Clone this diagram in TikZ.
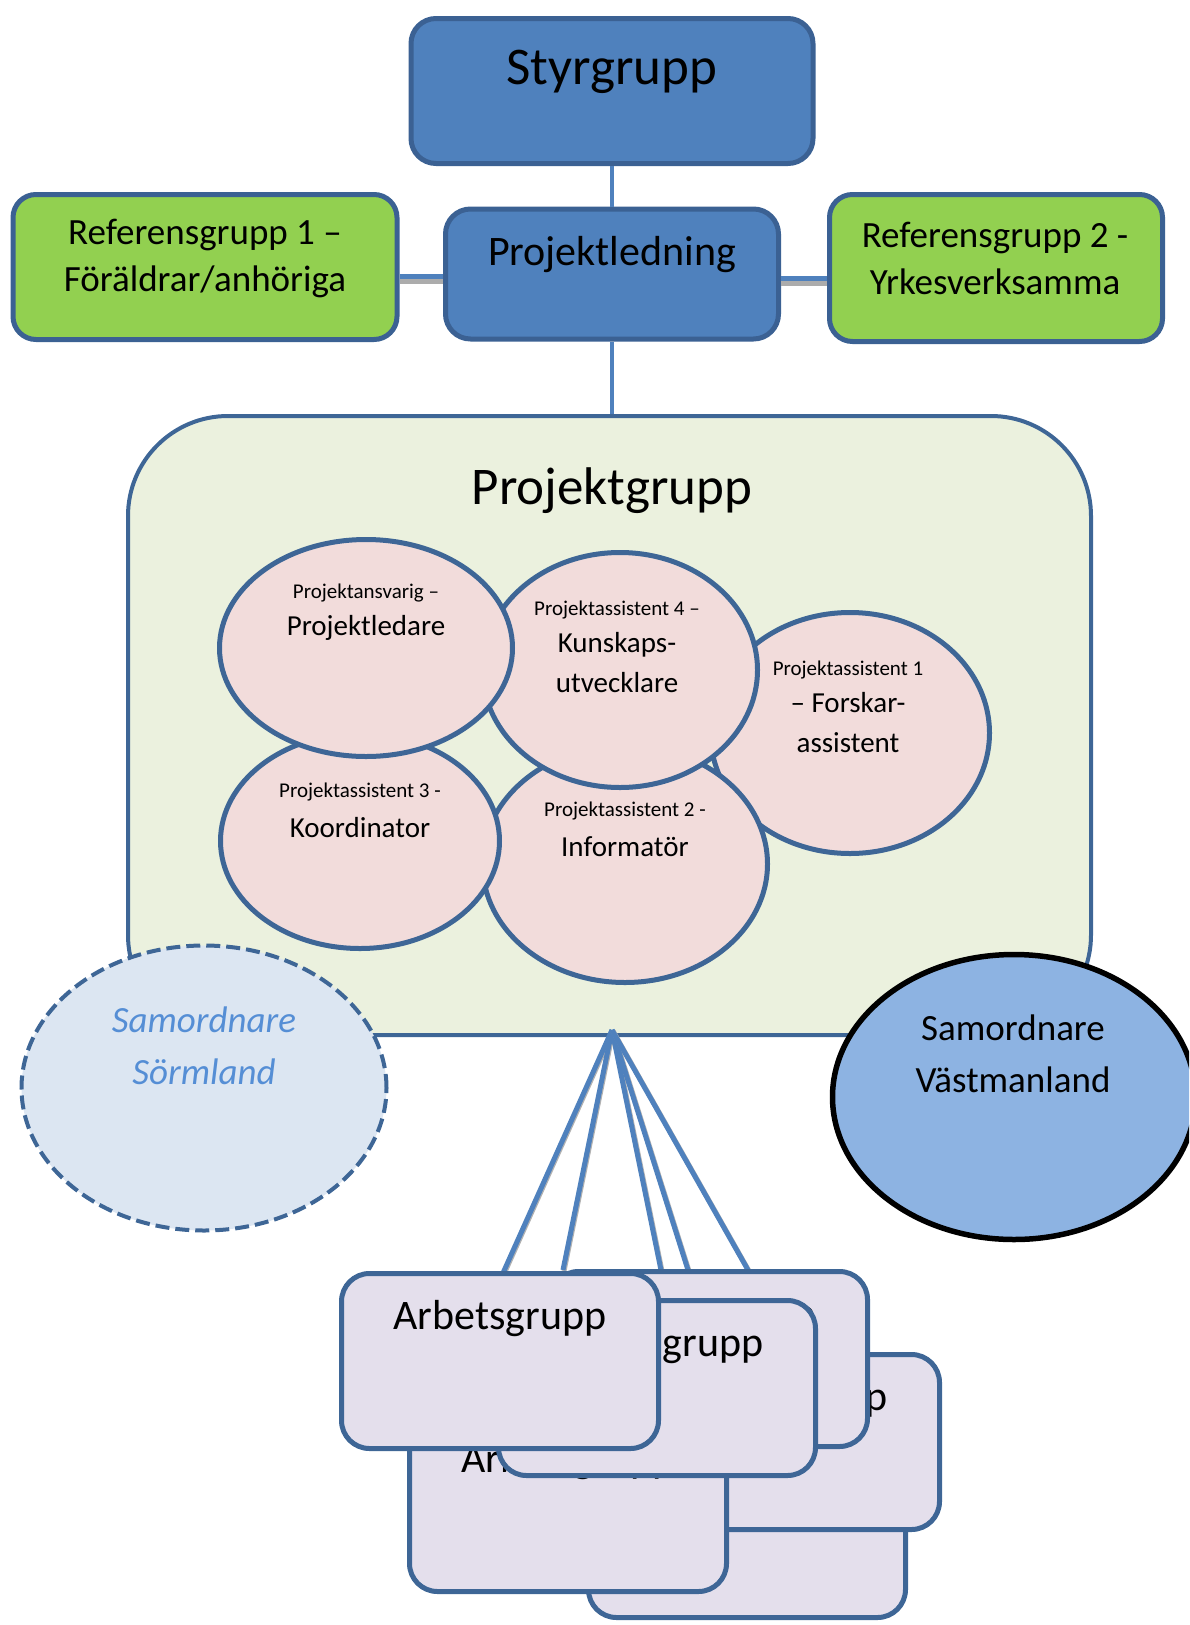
\documentclass[tikz,border=0pt]{standalone}
\usepackage{fontspec}
\setmainfont{Carlito}
\usepackage{tikz}
\usetikzlibrary{shapes.geometric}
\usetikzlibrary{positioning,calc}

\definecolor{headblue}{HTML}{4F81BD}
\definecolor{edgeblue}{HTML}{3B6193}
\definecolor{refgreen}{HTML}{92D050}
\definecolor{groupbg}{HTML}{EBF1DE}
\definecolor{rimblue}{HTML}{3E6696}
\definecolor{rolepink}{HTML}{F2DCDB}
\definecolor{softblue}{HTML}{DCE6F2}
\definecolor{textblue}{HTML}{558ED5}
\definecolor{coordblue}{HTML}{8DB3E2}
\definecolor{worklilac}{HTML}{E4DFEC}

\newcommand\hugefont{\fontsize{53}{64}\selectfont}
\newcommand\headfont{\fontsize{42}{50}\selectfont}
\newcommand\reffont{\fontsize{37}{47}\selectfont}
\newcommand\samfont{\fontsize{37}{52}\selectfont}
\newcommand\rolefont{\fontsize{29}{40}\selectfont}
\newcommand\tinyfont{\fontsize{21}{27}\selectfont}

\begin{document}
\begin{tikzpicture}
      [
        x=1pt, y=-1pt,
        head/.style={draw=edgeblue,fill=headblue,line width=5pt,rounded corners=25pt,inner sep=0pt},
        refbox/.style={draw=edgeblue,fill=refgreen,line width=5pt,rounded corners=23pt,inner sep=0pt},
        link/.style={draw=headblue,line width=4pt},
        sidelink/.style={draw=headblue,line width=5pt,
                     preaction={draw=gray!65,line width=5pt,transform canvas={shift={(0pt,-5pt)}}}},
        role/.style={ellipse,draw=rimblue,fill=rolepink,line width=5pt,inner sep=0pt},
        roletext/.style={align=center,font=\rolefont},
        work/.style={draw=rimblue,fill=worklilac,line width=5pt,rounded corners=28pt,
                     minimum width=317pt,minimum height=175pt,inner sep=0pt},
        worktext/.style={font=\headfont},
        spoke/.style={draw=headblue,line width=5pt,
                      preaction={draw=gray!60,line width=5pt,transform canvas={shift={(1pt,-1pt)}}}}
      ]

      \clip (0,0) rectangle (1189,1625);

      % top of the organisation
      \node[head,minimum width=402pt,minimum height=145pt] (Styr) at (612,91) {};
      \node[head,minimum width=333pt,minimum height=130pt] (Led) at (612,274) {};
      \node[refbox,minimum width=384pt,minimum height=145pt] (Ref1) at (205,267) {};
      \node[refbox,minimum width=333pt,minimum height=147pt] (Ref2) at (996,268) {};

      \node[font=\hugefont] (StyrT) at (612,72) {Styrgrupp};
      \node[font=\headfont] (LedT) at (612,255) {Projektledning};
      \node[font=\reffont,align=center] (Ref1T) at (205,258) {Referensgrupp 1 –\\Föräldrar/anhöriga};
      \node[font=\reffont,align=center] (Ref2T) at (995,258) {Referensgrupp 2 -\\Yrkesverksamma};

      \draw[link] (Styr.south) -- (Led.north);
      \draw[sidelink] ([yshift=-9pt]Ref1.east) -- ([yshift=-9pt]Ref1.east -| Led.west);
      \draw[sidelink] ([yshift=-10pt]Ref2.west) -- ([yshift=-10pt]Ref2.west -| Led.east);

      % projektgrupp
      \node[draw=rimblue,fill=groupbg,line width=4pt,rounded corners=100pt,
            minimum width=963pt,minimum height=619pt] (Grupp) at (609.5,725.5) {};
      \draw[link] (Led.south) -- (Led.south |- Grupp.north);
      \node[font=\hugefont] (GruppT) at (612,491) {Projektgrupp};

      \node[role,minimum width=279pt,minimum height=241pt] (Fors) at (850,733) {};
      \node[role,minimum width=285pt,minimum height=237pt] (Info) at (625,864) {};
      \node[role,minimum width=279pt,minimum height=215pt] (Koord) at (360,841) {};
      \node[role,minimum width=275pt,minimum height=235pt] (Kun) at (620,670) {};
      \node[role,minimum width=293pt,minimum height=217pt] (Ansv) at (366,648) {};

      \node[roletext] (AnsvT) at (366,612) {\tinyfont Projektansvarig –\\[-3pt]Projektledare};
      \node[roletext] (KunT) at (617,647) {\tinyfont Projektassistent 4 –\\[-3pt]Kunskaps-\\utvecklare};
      \node[roletext] (ForsT) at (848,707) {\tinyfont Projektassistent 1\\[-3pt]– Forskar-\\assistent};
      \node[roletext] (KoordT) at (360,810) {\tinyfont Projektassistent 3 -\\Koordinator};
      \node[roletext] (InfoT) at (625,829) {\tinyfont Projektassistent 2 -\\Informatör};

      % samordnare
      \node[ellipse,draw=rimblue,fill=softblue,line width=4pt,dash pattern=on 14pt off 6pt,
            minimum width=365pt,minimum height=285pt] (Sorm) at (204,1088) {};
      \node[font=\samfont\itshape,text=textblue,align=center] (SormT) at (204,1046) {Samordnare\\Sörmland};
      \node[ellipse,draw=black,fill=coordblue,line width=5.5pt,
            minimum width=363pt,minimum height=285pt] (Vast) at (1014,1097) {};
      \node[font=\samfont,align=center] (VastT) at (1013,1054) {Samordnare\\Västmanland};

      % arbetsgrupper
      \coordinate (Hub) at (612,1030);
      \coordinate (End1) at (503,1273);
      \coordinate (End2) at (563,1270);
      \coordinate (End3) at (661,1270);
      \coordinate (End4) at (688,1270);
      \coordinate (End5) at (748,1270);
      \foreach \e in {1,...,5}
        \draw[spoke] (Hub) -- (End\e);

      \node[work] (ArbF) at (747,1530) {};
      \node[worktext] (ArbFT) at (747,1488) {Arbetsgrupp};
      \node[work] (ArbD) at (781,1442) {};
      \node[worktext] (ArbDT) at (781,1400) {Arbetsgrupp};
      \node[work] (ArbC) at (709,1359) {};
      \node[worktext] (ArbCT) at (709,1317) {Arbetsgrupp};
      \node[work] (ArbE) at (568,1504) {};
      \node[worktext] (ArbET) at (568,1462) {Arbetsgrupp};
      \node[work] (ArbB) at (657,1388) {};
      \node[worktext] (ArbBT) at (657,1346) {Arbetsgrupp};
      \node[work] (ArbA) at (500,1361) {};
      \node[worktext] (ArbAT) at (500,1319) {Arbetsgrupp};
    \end{tikzpicture}
\end{document}
